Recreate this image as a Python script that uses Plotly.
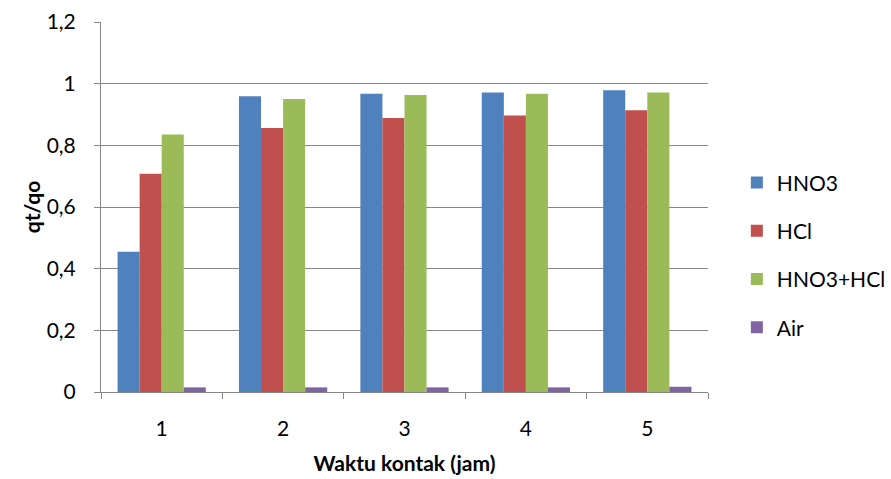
import plotly.graph_objects as go

# Contact time (hours) and qt/qo ratio for each leaching solution
waktu = ["1", "2", "3", "4", "5"]
hno3 = [0.455, 0.959, 0.967, 0.971, 0.979]
hcl = [0.708, 0.856, 0.889, 0.897, 0.914]
hno3_hcl = [0.835, 0.950, 0.963, 0.967, 0.971]
air = [0.015, 0.015, 0.015, 0.015, 0.017]

series = [
    ("HNO3", hno3, "#4F81BD"),
    ("HCl", hcl, "#C0504D"),
    ("HNO3+HCl", hno3_hcl, "#9BBB59"),
    ("Air", air, "#8064A2"),
]

FONT = "Lato"
FS = 21
GRID = "#868686"

fig = go.Figure()
for name, vals, color in series:
    fig.add_trace(go.Bar(
        x=waktu, y=vals, name=name, legendgroup=name,
        marker=dict(color=color, line=dict(width=0)),
    ))

fig.update_layout(
    width=891, height=479,
    margin=dict(l=101, r=183, t=22, b=87, autoexpand=False),
    paper_bgcolor="white", plot_bgcolor="white",
    separators=",.",
    barmode="group", bargap=0.273, bargroupgap=0,
    font=dict(family=FONT, size=FS, color="#000000"),
    legend=dict(
        xref="container", yref="container",
        x=0.827, xanchor="left", y=0.467, yanchor="middle",
        traceorder="grouped", tracegroupgap=18,
        font=dict(family=FONT, size=FS, color="#000000"),
        itemwidth=30,
    ),
    showlegend=True,
)

fig.update_xaxes(
    type="category",
    showline=True, linecolor=GRID, linewidth=1,
    ticks="outside", tickson="boundaries", ticklen=6, tickcolor=GRID,
    showgrid=False,
    tickfont=dict(family=FONT, size=FS),
    ticklabelstandoff=18,
    title=dict(text="<b>Waktu kontak (jam)</b>", font=dict(family=FONT, size=FS), standoff=17),
)
fig.update_yaxes(
    range=[0, 1.2], dtick=0.2, tick0=0,
    showline=True, linecolor=GRID, linewidth=1,
    ticks="outside", ticklen=6, tickcolor=GRID,
    showgrid=True, gridcolor=GRID, gridwidth=1,
    zeroline=False,
    tickfont=dict(family=FONT, size=FS),
    ticklabelstandoff=14,
    title=dict(text="<b>qt/qo</b>", font=dict(family=FONT, size=FS), standoff=0),
)

fig.write_html("out.html")
